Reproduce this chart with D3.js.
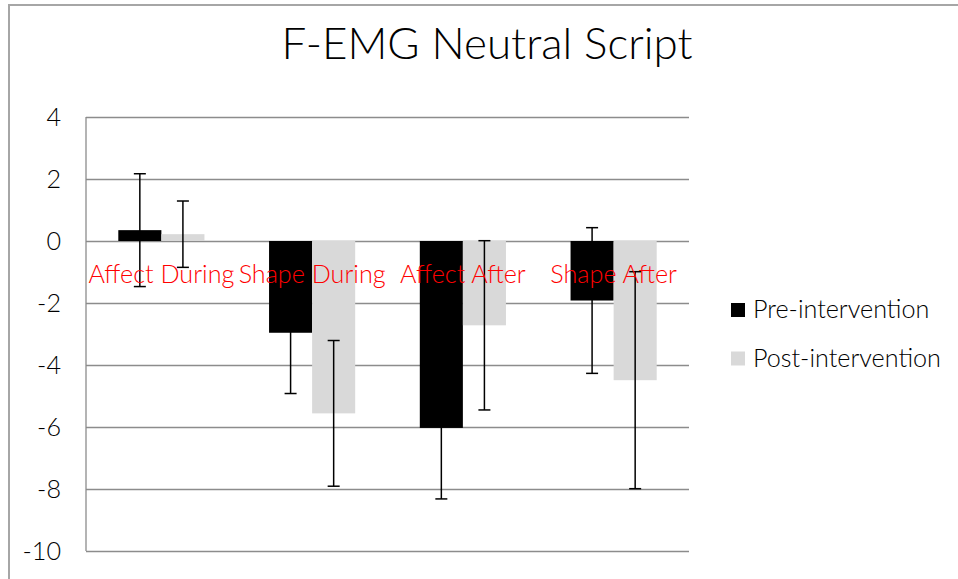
<!DOCTYPE html>
<html>
<head>
<meta charset="utf-8">
<script src="https://cdn.jsdelivr.net/npm/d3@7"></script>
<style>
  body { margin: 0; background: #fff; }
  svg text { font-family: Lato, "Open Sans", sans-serif; font-weight: 300; }
</style>
</head>
<body>
<script>
// chart values
const categories = ['Affect During', 'Shape During', 'Affect After', 'Shape After'];
const seriesNames = ['Pre-intervention', 'Post-intervention'];
const preValues = [0.35, -2.96, -6.03, -1.92];
const preErrors = [1.82, 1.96, 2.29, 2.35];
const postValues = [0.22, -5.56, -2.72, -4.49];
const postErrors = [1.07, 2.35, 2.73, 3.5];
const yTicks = [4, 2, 0, -2, -4, -6, -8, -10];

const colors = ['#000000', '#d9d9d9'];

const rows = [];
categories.forEach((c, i) => {
    rows.push({cat: c, series: seriesNames[0], value: preValues[i], err: preErrors[i]});
    rows.push({cat: c, series: seriesNames[1], value: postValues[i], err: postErrors[i]});
});

const svg = d3.select('body')
    .append('svg')
    .attr('width', 958)
    .attr('height', 579);

// outer chart frame
svg.append('rect')
    .attr('x', 9)
    .attr('y', 5)
    .attr('width', 1000)
    .attr('height', 700)
    .attr('fill', 'none')
    .attr('stroke', '#a6a6a6')
    .attr('stroke-width', 2);

// sets font size so the text is close to the wanted width
function fit(sel, w) {
    sel.each(function () {
        const t = d3.select(this);
        const len = this.getComputedTextLength();
        const fs = parseFloat(t.attr('font-size'));
        t.attr('font-size', (fs * w / len).toFixed(2));
    });
}

const title = svg.append('text')
    .text('F-EMG Neutral Script')
    .attr('x', 487)
    .attr('y', 59)
    .attr('text-anchor', 'middle')
    .attr('font-size', 36)
    .attr('fill', '#000');
fit(title, 411);

const y = d3.scaleLinear()
    .domain([-10, 4])
    .range([551, 117]);

const x0 = d3.scaleBand()
    .domain(categories)
    .range([86, 689])
    .paddingInner(1.5 / 3.5)
    .paddingOuter(0.75 / 3.5);

const x1 = d3.scaleBand()
    .domain(seriesNames)
    .range([0, x0.bandwidth()]);

const color = d3.scaleOrdinal().domain(seriesNames).range(colors);

// gridlines
svg.append('g')
    .attr('transform', 'translate(86,0)')
    .call(d3.axisLeft(y)
        .tickValues(yTicks)
        .tickSize(-603)
        .tickFormat(''))
    .call(g => g.select('.domain').remove())
    .selectAll('line')
    .attr('stroke', '#8c8c8c')
    .attr('stroke-width', 1.3);

// left axis line
svg.append('line')
    .attr('x1', 86).attr('x2', 86)
    .attr('y1', y(4)).attr('y2', y(-10))
    .attr('stroke', '#8c8c8c')
    .attr('stroke-width', 1.3);

// y tick labels
const yLab = svg.append('g')
    .selectAll('text')
    .data(yTicks)
    .enter()
    .append('text')
    .attr('x', 61)
    .attr('y', d => y(d))
    .attr('dy', '0.36em')
    .attr('text-anchor', 'end')
    .attr('font-size', 24)
    .attr('fill', '#000')
    .text(d => d);

// bars
svg.append('g')
    .selectAll('rect')
    .data(rows)
    .enter()
    .append('rect')
    .attr('x', d => x0(d.cat) + x1(d.series))
    .attr('width', x1.bandwidth())
    .attr('y', d => y(Math.max(0, d.value)))
    .attr('height', d => Math.abs(y(d.value) - y(0)))
    .attr('fill', d => color(d.series));

// error bars
const eb = svg.append('g')
    .selectAll('g')
    .data(rows)
    .enter()
    .append('g')
    .attr('transform', d => `translate(${x0(d.cat) + x1(d.series) + x1.bandwidth() / 2},0)`)
    .attr('stroke', '#000')
    .attr('stroke-width', 1.5);

eb.append('line')
    .attr('y1', d => y(d.value + d.err))
    .attr('y2', d => y(d.value - d.err));
eb.append('line')
    .attr('x1', -6).attr('x2', 6)
    .attr('y1', d => y(d.value + d.err))
    .attr('y2', d => y(d.value + d.err));
eb.append('line')
    .attr('x1', -6).attr('x2', 6)
    .attr('y1', d => y(d.value - d.err))
    .attr('y2', d => y(d.value - d.err));

// category labels, red, under the zero line
const catLab = svg.append('g')
    .selectAll('text')
    .data(categories)
    .enter()
    .append('text')
    .attr('x', d => x0(d) + x0.bandwidth() / 2)
    .attr('y', 283)
    .attr('text-anchor', 'middle')
    .attr('font-size', 24)
    .attr('fill', '#ff0000')
    .text(d => d);
const s = 146 / catLab.nodes()[0].getComputedTextLength();
catLab.attr('font-size', (24 * s).toFixed(2));
yLab.attr('font-size', (24 * s).toFixed(2));

// legend
const legend = svg.append('g')
    .selectAll('g')
    .data(seriesNames)
    .enter()
    .append('g')
    .attr('transform', (d, i) => `translate(731,${303 + i * 48.5})`);

legend.append('rect')
    .attr('width', 14)
    .attr('height', 14)
    .attr('fill', d => color(d));

legend.append('text')
    .attr('x', 22)
    .attr('y', 15)
    .attr('font-size', (24 * s).toFixed(2))
    .attr('fill', '#000')
    .text(d => d);
</script>
</body>
</html>
